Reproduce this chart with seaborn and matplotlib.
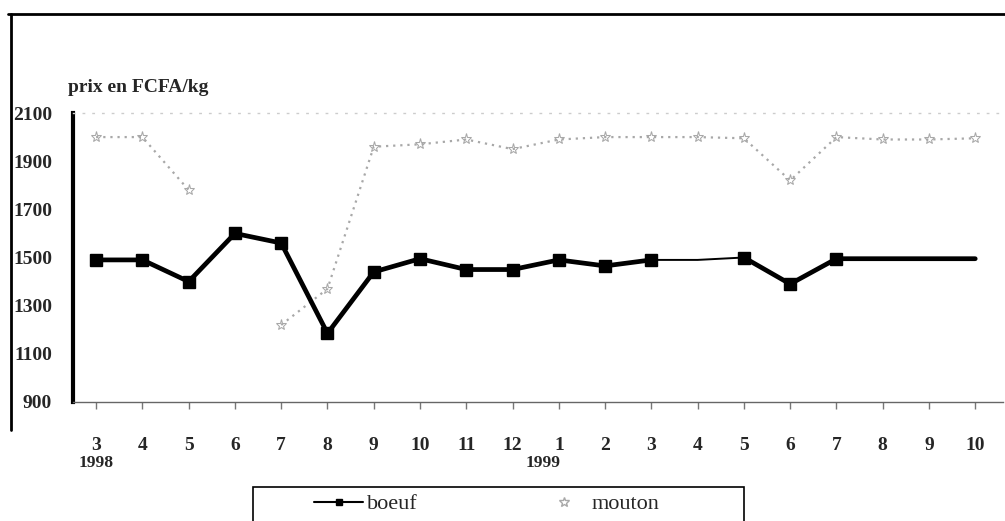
import numpy as np
import pandas as pd
import matplotlib
matplotlib.use("Agg")
import matplotlib.pyplot as plt
from matplotlib.lines import Line2D
import seaborn as sns

# ---- data ----
month_labels = ['3', '4', '5', '6', '7', '8', '9', '10', '11', '12',
                '1', '2', '3', '4', '5', '6', '7', '8', '9', '10']
year_labels = ['1998', '1999']
year_label_pos = [0, 9.65]
boeuf = [1490, 1490, 1400, 1600, 1560, 1185, 1440, 1495, 1450, 1450,
         1490, 1465, 1490, 1490, 1500, 1390, 1495, 1495, 1495, 1495]
mouton = [2000, 2000, 1780, np.nan, 1220, 1370, 1960, 1970, 1990, 1950,
          1990, 2000, 2000, 2000, 1995, 1820, 2000, 1990, 1990, 1995]
boeuf_no_marker = [13, 17, 18, 19]
y_ticks = [900, 1100, 1300, 1500, 1700, 1900, 2100]

sns.set_theme(style="white")
plt.rcParams['font.family'] = ['Liberation Serif', 'DejaVu Serif']

idx = np.arange(len(month_labels))
df = pd.DataFrame({'x': idx, 'boeuf': boeuf, 'mouton': mouton})

fig = plt.figure(figsize=(10.05, 5.21), dpi=100)
ax = fig.add_axes([73 / 1005, 1 - 402 / 521, 930 / 1005, (402 - 113) / 521])

# mouton: light grey dotted with star markers, gap where missing
grey = '#a8a8a8'
valid = df['mouton'].notna().to_numpy()
seg_starts = np.flatnonzero(np.diff(np.r_[0, valid.astype(int)]) == 1)
seg_ends = np.flatnonzero(np.diff(np.r_[valid.astype(int), 0]) == -1)
for s, e in zip(seg_starts, seg_ends):
    sub = df.iloc[s:e + 1]
    sns.lineplot(data=sub, x='x', y='mouton', ax=ax, color=grey, lw=1.6,
                 linestyle=(0, (1, 2.2)), marker='*', markersize=8,
                 markeredgecolor=grey, markerfacecolor='none', sort=False)

# boeuf: thick black line with square markers (thin part between 12 and 14)
pieces = [(0, 12, 3.4), (12, 14, 1.4), (14, 19, 3.4)]
for a, b, w in pieces:
    sub = df.iloc[a:b + 1]
    sns.lineplot(data=sub, x='x', y='boeuf', ax=ax, color='black', lw=w,
                 sort=False)
mk = df.drop(index=boeuf_no_marker)
ax.plot(mk['x'], mk['boeuf'], linestyle='none', marker='s', markersize=8.5,
        color='black')

ax.set_xlim(-0.5, 19.6)
ax.set_ylim(900, 2100)
ax.set_xlabel('')
ax.set_ylabel('')
ax.set_xticks(idx)
ax.set_xticklabels(month_labels, fontweight='bold', fontsize=14)
ax.set_yticks(y_ticks)
ax.set_yticklabels([str(v) for v in y_ticks], fontweight='bold', fontsize=14)
ax.tick_params(axis='x', length=5, width=1, color='#777777', pad=20,
               bottom=True, direction='out')
ax.tick_params(axis='y', length=0, pad=15)
ax.grid(False)
for side in ['right']:
    ax.spines[side].set_visible(False)
ax.spines['top'].set_color('#cccccc')
ax.spines['top'].set_linestyle((0, (1, 6)))
ax.spines['top'].set_linewidth(1)
ax.spines['left'].set_color('black')
ax.spines['left'].set_linewidth(3)
ax.spines['bottom'].set_color('#666666')
ax.spines['bottom'].set_linewidth(1)

for lab, pos in zip(year_labels, year_label_pos):
    ax.annotate(lab, xy=(pos, 0), xycoords=('data', 'axes fraction'),
                xytext=(0, -61), textcoords='offset pixels',
                ha='center', va='center', fontsize=12.5, fontweight='bold')

fig.text(68 / 1005, 1 - 88 / 521, 'prix en FCFA/kg', fontsize=14,
         fontweight='bold', ha='left', va='center')

# outer frame (top and left lines)
fig.add_artist(Line2D([8 / 1005, 1.0], [1 - 14 / 521] * 2, color='black', lw=2))
fig.add_artist(Line2D([11 / 1005] * 2, [1 - 14 / 521, 1 - 430 / 521],
                      color='black', lw=2))

# legend frame and entries
fig.add_artist(plt.Rectangle((253 / 1005, -0.01), (744 - 253) / 1005,
                             (521 - 487) / 521 + 0.01, fill=False,
                             edgecolor='black', lw=1.2))
handles = [Line2D([], [], color='black', lw=1.5, marker='s', markersize=5),
           Line2D([], [], color=grey, lw=0, marker='*', markersize=7,
                  markerfacecolor='none', markeredgecolor=grey)]
fig.legend(handles, ['boeuf', 'mouton'], loc='center',
           bbox_to_anchor=(487 / 1005, 1 - 504 / 521), ncol=2, frameon=False,
           fontsize=16, handlelength=2.2, handletextpad=0.15,
           columnspacing=5.5)

fig.savefig('out.png', dpi=100)
